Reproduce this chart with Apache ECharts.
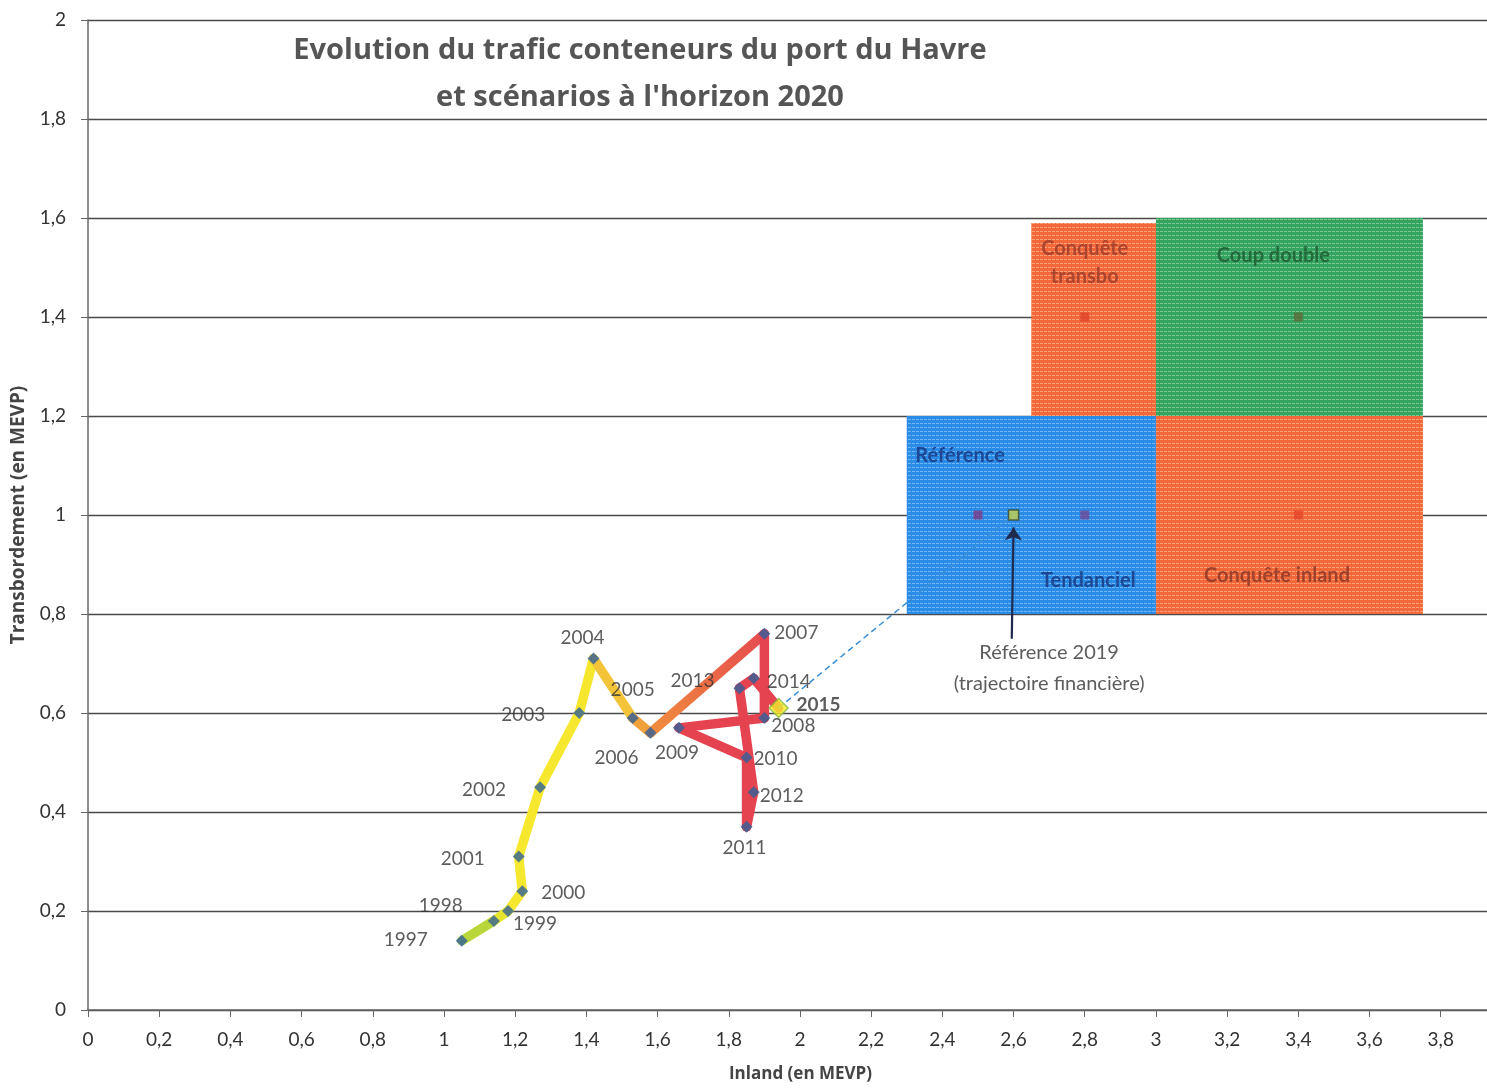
<!DOCTYPE html>
<html><head><meta charset="utf-8">
<script src="https://cdn.jsdelivr.net/npm/echarts@6/dist/echarts.min.js"></script>
<style>html,body{margin:0;padding:0;background:#fff}#c{width:1487px;height:1089px}</style>
</head><body><div id="c"></div>
<script>
// ---- data ----
const years = ['1997','1998','1999','2000','2001','2002','2003','2004','2005','2006','2007','2008','2009','2010','2011','2012','2013','2014','2015'];
const inland = [1.05,1.14,1.18,1.22,1.21,1.27,1.38,1.42,1.53,1.58,1.90,1.90,1.66,1.85,1.85,1.87,1.83,1.87,1.94];
const transbo = [0.14,0.18,0.20,0.24,0.31,0.45,0.60,0.71,0.59,0.56,0.76,0.59,0.57,0.51,0.37,0.44,0.65,0.67,0.61];
const xTicks = [0,0.2,0.4,0.6,0.8,1,1.2,1.4,1.6,1.8,2,2.2,2.4,2.6,2.8,3,3.2,3.4,3.6,3.8];
// scenario boxes: [xFrom, xTo, yFrom, yTo]
const scenarioBoxes = [[2.3,3.0,0.8,1.2],[3.0,3.75,0.8,1.2],[2.65,3.0,1.2,1.59],[3.0,3.75,1.2,1.6]];
const scenarioPointX = [2.5,2.8,2.8,3.4,3.4];
const scenarioPointY = [1.0,1.0,1.4,1.4,1.0];
const reference2019 = [2.6,1.0];
const arrowFrom = [2.595,0.75];
const annotTexts = ['Conquête\ntransbo','Coup double','Référence','Tendanciel','Conquête inland'];
const annotX = [2.80,3.33,2.45,2.81,3.34];
const annotY = [1.51,1.525,1.12,0.868,0.878];
const refNote = 'Référence 2019\n(trajectoire financière)';
const refNotePos = [2.70,0.69];
const titleLines = ["Evolution du trafic conteneurs du port du Havre","et scénarios à l'horizon 2020"];

// ---- styles ----
const segColors = ['#b9d63a','#e6e62e','#f5e82e','#f6e82e','#f6e82e','#f6e82e','#f6e62e','#f3c33a','#f2a03a',
  {type:'linear',x:0,y:1,x2:1,y2:0,colorStops:[{offset:0,color:'#f0913c'},{offset:1,color:'#e5474f'}]},
  '#e4434f','#e4434f','#e4434f','#e4434f','#e4434f','#e4434f','#e4434f','#e4434f'];
const boxColors = [['#2a8ce6','#6fb6f2'],['#f2683a','#f7a07a'],['#f2683a','#f7a07a'],['#35a461','#7cc996']];
const annotColors = ['#9a3a2a','#1d5a32','#17357f','#17357f','#8a3425'];
const pointColors = ['#7d3a86','#6f4796','#e0402a','#5f6a38','#e6432b'];
const labelOffsets = [[-56,-1],[-53,-15],[27,13],[41,2],[-56,2],[-56,3],[-56,2],[-11,-21],[0,-28],[-34,25],
  [32,-1],[29,8],[-2,25],[29,1],[-2,21],[28,4],[-47,-7],[35,4],[40,-3]];
const FONT = 'Lato';
const BOLDFONT = 'Open Sans';

function stripePattern(base, light){
  const c = document.createElement('canvas'); c.width = 4; c.height = 4;
  const g = c.getContext('2d');
  g.fillStyle = base; g.fillRect(0,0,4,4);
  g.fillStyle = light; g.fillRect(0,3,3,1);
  return {image:c, repeat:'repeat'};
}

const series = [];
// scenario rectangles
series.push({
  type:'scatter', data:[], silent:true,
  markArea:{silent:true, label:{show:false},
    data: scenarioBoxes.map((b,i)=>[{xAxis:b[0],yAxis:b[2],itemStyle:{color:stripePattern(boxColors[i][0],boxColors[i][1]),opacity:1}},{xAxis:b[1],yAxis:b[3]}])}
});
// trajectory segments
for (let i=0;i<years.length-1;i++){
  series.push({type:'line', data:[[inland[i],transbo[i]],[inland[i+1],transbo[i+1]]], symbol:'none',
    lineStyle:{color:segColors[i], width:9.5, cap:'round', join:'round'}, silent:true, z:3});
}
// dashed projection
series.push({type:'line', data:[[inland[inland.length-1],transbo[transbo.length-1]],reference2019], symbol:'none',
  lineStyle:{color:'#3b8fd6', width:1.5, type:[6,4]}, z:3});
// year markers
series.push({type:'scatter', z:5,
  data: years.map((y,i)=>{
    const last = i===years.length-1;
    return {value:[inland[i],transbo[i]], name:y,
      symbol:'diamond', symbolSize: last?19:12,
      itemStyle: last?{color:'#f3ef2a',borderColor:'#86b53c',borderWidth:1.5}:{color:'#30609a'},
      label:{show:true, position:'inside', offset:labelOffsets[i], formatter:y,
        fontFamily:FONT, fontSize:19, color:'#333', fontWeight: last?'bold':'normal'}};
  })
});
// scenario squares
series.push({type:'scatter', z:5, symbol:'rect', symbolSize:9,
  data: scenarioPointX.map((x,i)=>({value:[x,scenarioPointY[i]], itemStyle:{color:pointColors[i]}}))});
series.push({type:'scatter', z:6, symbol:'rect', symbolSize:10,
  data:[{value:reference2019, itemStyle:{color:'#c6d24a',borderColor:'#3c4a2a',borderWidth:1.5}}]});
// arrow
series.push({type:'lines', coordinateSystem:'cartesian2d', z:6, symbol:['none','arrow'], symbolSize:13,
  lineStyle:{color:'#1e2a4e', width:2.2, opacity:1},
  data:[{coords:[arrowFrom,[reference2019[0],reference2019[1]-0.025]]}]});
// annotation texts
series.push({type:'scatter', z:7, symbolSize:0, silent:true,
  data: annotTexts.map((t,i)=>({value:[annotX[i],annotY[i]],
    label:{show:true, position:'inside', formatter:t, fontFamily:FONT, fontSize:20, fontWeight:'bold',
      color:annotColors[i], lineHeight:28, align:'center'}}))});
series.push({type:'scatter', z:7, symbolSize:0, silent:true,
  data:[{value:refNotePos, label:{show:true, position:'inside', formatter:refNote, fontFamily:FONT,
    fontSize:20, color:'#333', lineHeight:31, align:'center'}}]});

const chart = echarts.init(document.getElementById('c'), null, {renderer:'canvas'});
chart.setOption({
  backgroundColor:'#fff',
  animation:false,
  grid:{left:88, right:0, top:20, bottom:79, containLabel:false},
  graphic:[
    {type:'text', x:640, y:51, style:{text:titleLines[0], textAlign:'center', textVerticalAlign:'middle',
      font:'bold 29px "Open Sans"', fill:'#555'}},
    {type:'text', x:640, y:98, style:{text:titleLines[1], textAlign:'center', textVerticalAlign:'middle',
      font:'bold 29px "Open Sans"', fill:'#555'}}
  ],
  xAxis:{type:'value', min:0, max:3.93, interval:0.2,
    name:'Inland (en MEVP)', nameLocation:'middle', nameGap:56,
    nameTextStyle:{fontFamily:BOLDFONT, fontWeight:'bold', fontSize:17, color:'#444', padding:[0,0,0,26]},
    axisLine:{show:true, lineStyle:{color:'#666', width:1.5}},
    axisTick:{show:true, customValues:xTicks, length:7, lineStyle:{color:'#666'}},
    axisLabel:{customValues:xTicks, margin:20, fontFamily:FONT, fontSize:19, color:'#333',
      formatter:v=>String(+v.toFixed(1)).replace('.',',')},
    splitLine:{show:false}},
  yAxis:{type:'value', min:0, max:2, interval:0.2,
    name:'Transbordement (en MEVP)', nameLocation:'middle', nameGap:60,
    nameTextStyle:{fontFamily:BOLDFONT, fontWeight:'bold', fontSize:19, color:'#444'},
    axisLine:{show:true, lineStyle:{color:'#666', width:1.5}},
    axisTick:{show:true, length:7, lineStyle:{color:'#666'}},
    axisLabel:{margin:22, fontFamily:FONT, fontSize:19, color:'#333',
      formatter:v=>String(+v.toFixed(1)).replace('.',',')},
    splitLine:{show:true, lineStyle:{color:'#4a4a4a', width:1.3}}},
  series: series
});
</script></body></html>
